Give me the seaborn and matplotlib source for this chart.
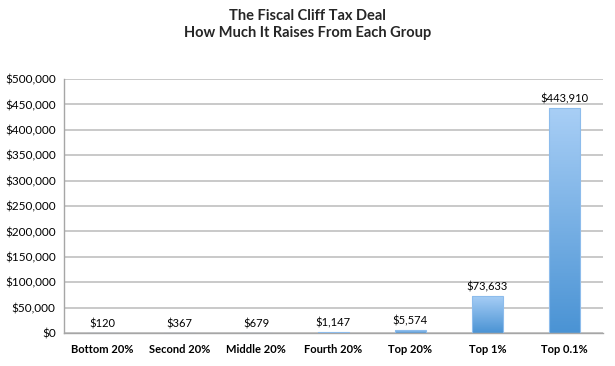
import numpy as np
import pandas as pd
import matplotlib
matplotlib.use("Agg")
import matplotlib.pyplot as plt
import seaborn as sns
from matplotlib.colors import LinearSegmentedColormap
from matplotlib.ticker import FuncFormatter

groups = ["Bottom 20%", "Second 20%", "Middle 20%", "Fourth 20%", "Top 20%", "Top 1%", "Top 0.1%"]
values = [120, 367, 679, 1147, 5574, 73633, 443910]
title_lines = ["The Fiscal Cliff Tax Deal", "How Much It Raises From Each Group"]

sns.set_theme(style="white")
plt.rcParams['font.family'] = ['Lato', 'DejaVu Sans']

df = pd.DataFrame({"group": groups, "value": values})

fig = plt.figure(figsize=(6.15, 3.66), dpi=100)
ax = fig.add_axes([0.104, 0.090, 0.876, 0.694])

sns.barplot(data=df, x="group", y="value", color="#6fa8e0", width=0.4, ax=ax, saturation=1)

ax.set_ylim(0, 500000)
ax.set_yticks(np.arange(0, 500001, 50000))
ax.yaxis.set_major_formatter(FuncFormatter(lambda v, p: f"${v:,.0f}"))
ax.grid(axis="y", color="#c0c0c0", linewidth=1.2)
ax.set_axisbelow(True)
for s in ["top", "right"]:
    ax.spines[s].set_visible(False)
for s in ["left", "bottom"]:
    ax.spines[s].set_color("#a6a6a6")
    ax.spines[s].set_linewidth(1.0)
ax.set_xlabel("")
ax.set_ylabel("")
ax.tick_params(axis="y", labelsize=8.5, colors="black", length=0, pad=6)
ax.tick_params(axis="x", labelsize=8, colors="black", length=0, pad=8)
for lbl in ax.get_xticklabels():
    lbl.set_fontweight("bold")

cmap = LinearSegmentedColormap.from_list("g", ["#4a93d4", "#a9cff6"])
grad = np.linspace(0, 1, 256).reshape(-1, 1)
for patch, v in zip(ax.patches, values):
    x0 = patch.get_x()
    w = patch.get_width()
    h = patch.get_height()
    patch.set_facecolor("none")
    patch.set_edgecolor("#8dbcec")
    patch.set_linewidth(0.8)
    patch.set_zorder(3)
    im = ax.imshow(grad, cmap=cmap, origin="lower", aspect="auto",
                   extent=[x0, x0 + w, 0, max(h, 1)], zorder=2)
    im.set_clip_path(patch)
    ax.text(x0 + w / 2, h + 7000, f"${v:,.0f}", ha="center", va="bottom",
            fontsize=8, color="black")

ax.set_xlim(-0.5, len(groups) - 0.5)
ax.set_ylim(0, 500000)

fig.text(0.5, 0.957, title_lines[0], ha="center", va="center", fontsize=10.5, fontweight="bold")
fig.text(0.5, 0.909, title_lines[1], ha="center", va="center", fontsize=10.5, fontweight="bold")

fig.savefig("out.png", dpi=100)
